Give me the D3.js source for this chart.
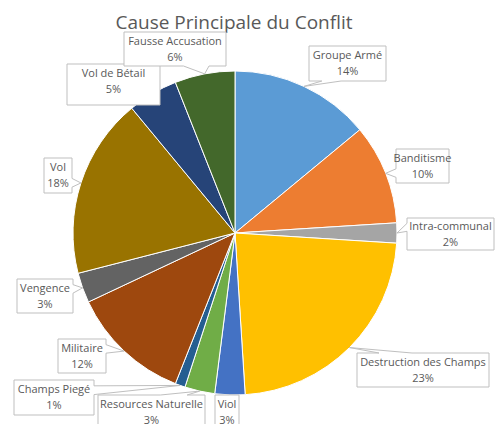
<!DOCTYPE html>
<html>
<head>
<meta charset="utf-8">
<script src="https://cdn.jsdelivr.net/npm/d3@7"></script>
<style>
  body { margin: 0; background: #fff; }
  svg { display: block; }
</style>
</head>
<body>
<svg id="chart" width="498" height="424"></svg>
<script>
// data
const categories = ["Groupe Armé", "Banditisme", "Intra-communal", "Destruction des Champs", "Viol",
    "Resources Naturelle", "Champs Piegé", "Militaire", "Vengence", "Vol", "Vol de Bétail", "Fausse Accusation"];
const values = [14, 10, 2, 23, 3, 3, 1, 12, 3, 18, 5, 6];
const colors = ["#5B9BD5", "#ED7D31", "#A5A5A5", "#FFC000", "#4472C4", "#70AD47",
    "#255E91", "#9E480E", "#636363", "#997300", "#264478", "#43682B"];

// callout boxes (x0, y0, x1, y1), same order as categories
const labelBoxes = [
    [309, 46, 386, 81], [396, 149, 449, 183], [407, 218, 494, 250], [357, 353, 489, 387],
    [215, 395, 239, 432], [98, 395, 205, 432], [14, 380, 94, 415], [58, 339, 106, 373],
    [17, 279, 73, 313], [44, 158, 72, 193], [67, 64, 160, 105], [124, 32, 226, 66]
];

const svg = d3.select("#chart");
const cx = 235, cy = 233, radius = 162;
const total = d3.sum(values);

svg.append("text")
    .attr("x", 234)
    .attr("y", 29)
    .attr("text-anchor", "middle")
    .style("font-family", "'Open Sans', sans-serif")
    .style("font-size", "19px")
    .style("fill", "#595959")
    .text("Cause Principale du Conflit");

const pie = d3.pie().sort(null).value(d => d);
const arcs = pie(values);
const arc = d3.arc().innerRadius(0).outerRadius(radius);

const g = svg.append("g").attr("transform", `translate(${cx},${cy})`);

g.selectAll("path.slice")
    .data(arcs)
    .enter()
    .append("path")
    .attr("class", "slice")
    .attr("d", arc)
    .attr("fill", (d, i) => colors[i])
    .attr("stroke", "#fff")
    .attr("stroke-width", 1);

// Excel-like wedge rectangle callout
function callout(b, tx, ty) {
    const x0 = b[0], y0 = b[1], w = b[2] - b[0], h = b[3] - b[1];
    const hc = x0 + w / 2, vc = y0 + h / 2;
    const dx = tx - hc, dy = ty - vc;
    if (tx >= x0 && tx <= x0 + w && ty >= y0 && ty <= y0 + h) {
        return `M${x0},${y0}h${w}v${h}h${-w}Z`;
    }
    const dq = dx * h / w;
    const dz = Math.abs(dy) - Math.abs(dq);
    const xa = x0 + w * (dx > 0 ? 7 : 2) / 12, xb = x0 + w * (dx > 0 ? 10 : 5) / 12;
    const ya = y0 + h * (dy > 0 ? 7 : 2) / 12, yb = y0 + h * (dy > 0 ? 10 : 5) / 12;
    const X1 = x0 + w, Y1 = y0 + h;
    if (dz > 0 && dy < 0) {
        return `M${x0},${y0}L${xa},${y0}L${tx},${ty}L${xb},${y0}L${X1},${y0}L${X1},${Y1}L${x0},${Y1}Z`;
    } else if (dz > 0) {
        return `M${x0},${y0}L${X1},${y0}L${X1},${Y1}L${xb},${Y1}L${tx},${ty}L${xa},${Y1}L${x0},${Y1}Z`;
    } else if (dx < 0) {
        return `M${x0},${y0}L${X1},${y0}L${X1},${Y1}L${x0},${Y1}L${x0},${yb}L${tx},${ty}L${x0},${ya}Z`;
    }
    return `M${x0},${y0}L${X1},${y0}L${X1},${ya}L${tx},${ty}L${X1},${yb}L${X1},${Y1}L${x0},${Y1}Z`;
}

const labels = svg.append("g")
    .selectAll("g")
    .data(arcs)
    .enter()
    .append("g");

labels.append("path")
    .attr("d", (d, i) => {
        const a = (d.startAngle + d.endAngle) / 2;
        const tx = cx + radius * Math.sin(a), ty = cy - radius * Math.cos(a);
        return callout(labelBoxes[i], tx, ty);
    })
    .attr("fill", "#fff")
    .attr("stroke", "#BFBFBF")
    .attr("stroke-width", 1);

const txt = labels.append("text")
    .attr("text-anchor", "middle")
    .style("font-family", "'Open Sans', sans-serif")
    .style("font-size", "11px")
    .style("fill", "#595959");

txt.append("tspan")
    .attr("x", (d, i) => (labelBoxes[i][0] + labelBoxes[i][2]) / 2)
    .attr("y", (d, i) => Math.min((labelBoxes[i][1] + labelBoxes[i][3]) / 2, labelBoxes[i][1] + 17) - 7.5)
    .attr("dy", "0.35em")
    .text((d, i) => categories[i]);

txt.append("tspan")
    .attr("x", (d, i) => (labelBoxes[i][0] + labelBoxes[i][2]) / 2)
    .attr("y", (d, i) => Math.min((labelBoxes[i][1] + labelBoxes[i][3]) / 2, labelBoxes[i][1] + 17) + 8)
    .attr("dy", "0.35em")
    .text(d => Math.round(d.value / total * 100) + "%");
</script>
</body>
</html>
